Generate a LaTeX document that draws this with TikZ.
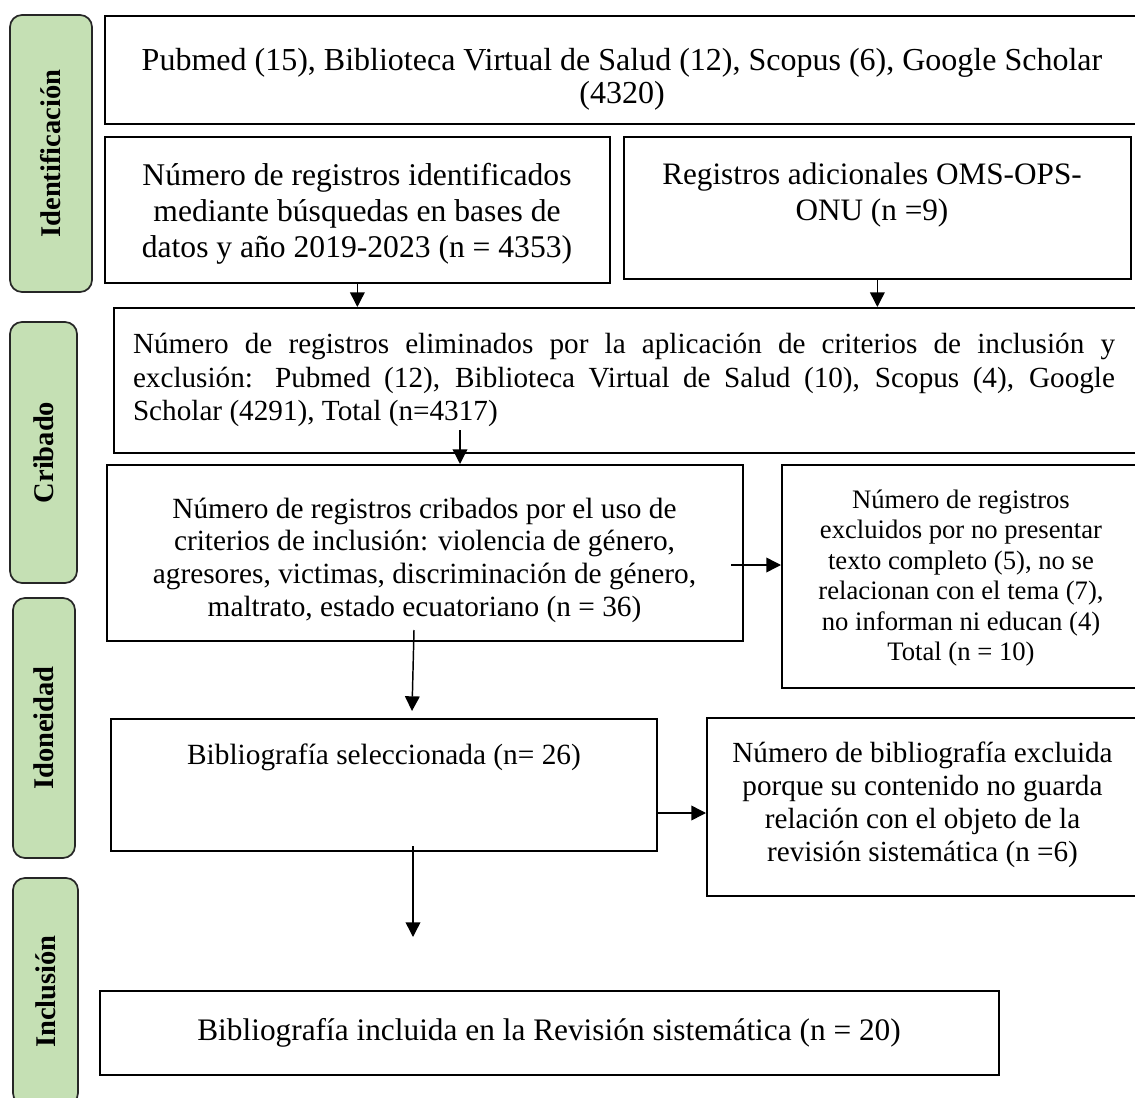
\documentclass[tikz,border=0pt]{standalone}
\usepackage{fontspec}
\setmainfont{Liberation Serif}
\usetikzlibrary{arrows.meta}
\definecolor{phasegreen}{HTML}{C5E0B4}

\begin{document}
\begin{tikzpicture}[x=0.75pt,y=-0.75pt,
    box/.style={draw,line width=1.3pt,anchor=north west,inner sep=0pt},
    txt/.style={align=center,inner sep=0pt},
    phase/.style={draw=black!85,line width=1.3pt,fill=phasegreen,rounded corners=9pt,
        rotate=90,inner sep=0pt,font=\fontsize{21.4}{24}\selectfont\bfseries},
    arr/.style={-{Triangle[length=11pt,width=11pt]},line width=1.1pt}]
    \useasboundingbox (0,0) rectangle (1135,1098);

    \foreach \i/\t/\x/\y/\len/\wid in {1/Identificación/51/153.5/207.75/61.5,
        2/Cribado/43.5/452.5/195.75/50.25, 3/Idoneidad/44/728/195/46.5,
        4/Inclusión/45.5/991.5/170.25/48.75}
        \node[phase,minimum width=\len pt,minimum height=\wid pt] (phase-\i) at (\x,\y) {\t};

    \node[box,minimum width=780pt,minimum height=81pt] (A) at (104,15) {};
    \node[box,minimum width=378.75pt,minimum height=109.5pt] (B) at (104,136) {};
    \node[box,minimum width=380.25pt,minimum height=106.5pt] (C) at (623,136) {};
    \node[box,minimum width=772.5pt,minimum height=108.75pt] (D) at (113,307) {};
    \node[box,minimum width=477pt,minimum height=132pt] (E) at (106,464) {};
    \node[box,minimum width=270pt,minimum height=167.25pt] (F) at (781,464) {};
    \node[box,minimum width=409.5pt,minimum height=99pt] (G) at (110,718) {};
    \node[box,minimum width=326.25pt,minimum height=133.5pt] (H) at (706,717) {};
    \node[box,minimum width=674.25pt,minimum height=63pt] (I) at (99,990) {};

    \node[txt,font=\fontsize{24}{24.75}\selectfont] (A-text) at (622,79)
        {Pubmed (15), Biblioteca Virtual de Salud (12), Scopus (6), Google Scholar\\(4320)};
    \node[txt,font=\fontsize{23.7}{27}\selectfont] (B-text) at (357,214)
        {Número de registros identificados\\mediante búsquedas en bases de\\datos y año 2019-2023 (n = 4353)};
    \node[txt,font=\fontsize{23.4}{27}\selectfont] (C-text) at (872,195)
        {Registros adicionales OMS-OPS-\\ONU (n =9)};
    \node[txt,text width=736.5pt,align=justify,font=\fontsize{21.9}{25.1}\selectfont] (D-text) at (624,380)
        {Número de registros eliminados por la aplicación de criterios de inclusión y\linebreak
        exclusión: Pubmed (12), Biblioteca Virtual de Salud (10), Scopus (4), Google\linebreak
        Scholar (4291), Total (n=4317)};
    \node[txt,font=\fontsize{22}{24.5}\selectfont] (E-text) at (424.5,560)
        {Número de registros cribados por el uso de\\criterios de inclusión: violencia de género,\\
        agresores, victimas, discriminación de género,\\maltrato, estado ecuatoriano (n = 36)};
    \node[txt,font=\fontsize{20}{22.9}\selectfont] (F-text) at (961,578)
        {Número de registros\\excluidos por no presentar\\texto completo (5), no se\\
        relacionan con el tema (7),\\no informan ni educan (4)\\Total (n = 10)};
    \node[txt,font=\fontsize{22}{26}\selectfont] (G-text) at (384,757)
        {Bibliografía seleccionada (n= 26)};
    \node[txt,font=\fontsize{21.9}{24.75}\selectfont] (H-text) at (922.5,804.5)
        {Número de bibliografía excluida\\porque su contenido no guarda\\relación con el objeto de la\\
        revisión sistemática (n =6)};
    \node[txt,font=\fontsize{23.5}{27}\selectfont] (I-text) at (549,1033)
        {Bibliografía incluida en la Revisión sistemática (n = 20)};

    \coordinate (d1) at (460,430);
    \coordinate (e1) at (731,565);
    \coordinate (e2) at (414,630);
    \coordinate (g0) at (412,711);
    \coordinate (g1) at (656,813);
    \coordinate (g2) at (413,846);
    \coordinate (i0) at (413,937);

    \draw[arr] (B.south) -- (B.south |- D.north);
    \draw[arr] (C.south) -- (C.south |- D.north);
    \draw[arr] (d1) -- (d1 |- E.north);
    \draw[arr] (e1) -- (e1 -| F.west);
    \draw[arr] (e2) -- (g0);
    \draw[arr] (g1) -- (g1 -| H.west);
    \draw[arr] (g2) -- (i0);
\end{tikzpicture}
\end{document}
